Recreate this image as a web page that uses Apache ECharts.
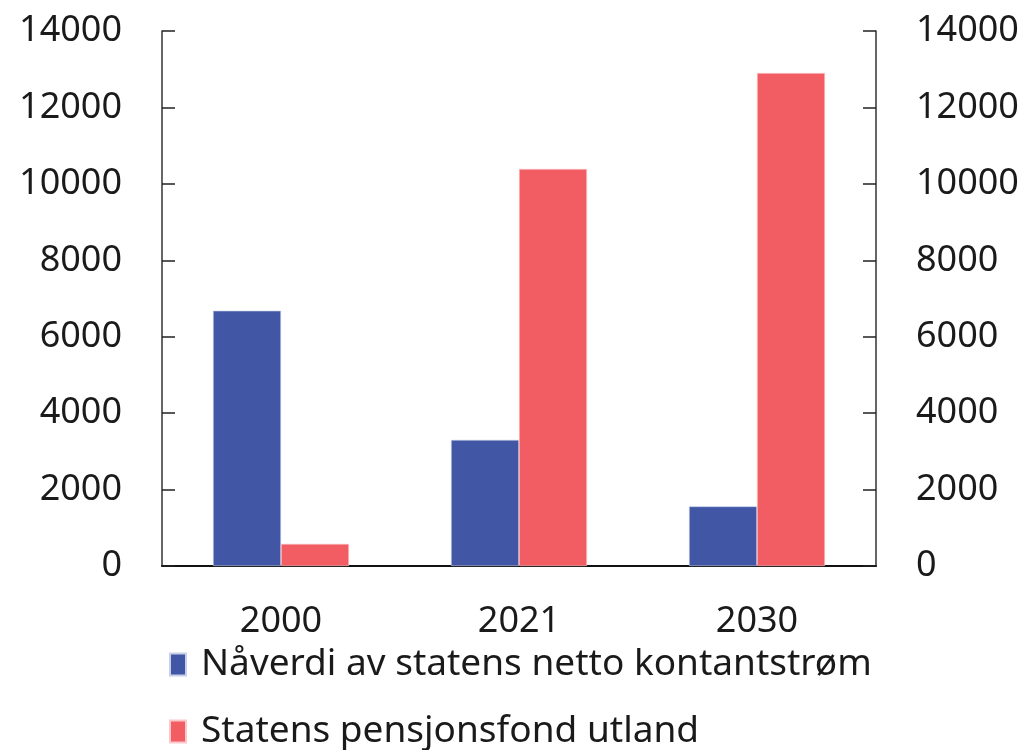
<!DOCTYPE html>
<html>
<head>
<meta charset="utf-8">
<script src="https://cdn.jsdelivr.net/npm/echarts@6/dist/echarts.min.js"></script>
<style>
  html, body { margin: 0; padding: 0; background: #fff; }
  #chart { width: 1028px; height: 750px; }
</style>
</head>
<body>
<div id="chart"></div>
<script>
// data
const years = ['2000', '2021', '2030'];
const naverdi = [6680, 3300, 1560];
const spu = [580, 10390, 12900];
const seriesNames = ['Nåverdi av statens netto kontantstrøm', 'Statens pensjonsfond utland'];

const chart = echarts.init(document.getElementById('chart'));

const textColor = '#1a1a1a';
const fontFamily = '"Noto Sans", "Open Sans", sans-serif';

// shared y axis look, left and right
function valueAxis(pos) {
  return {
    type: 'value',
    position: pos,
    min: 0,
    max: 14000,
    interval: 2000,
    axisLine: { show: true, lineStyle: { color: '#333', width: 1.5 } },
    axisTick: { show: true, inside: true, length: 13, lineStyle: { color: '#222', width: 1.5 } },
    splitLine: { show: false },
    axisLabel: {
      color: textColor, fontSize: 36, fontFamily: fontFamily, margin: 40,
      formatter: v => String(v) // no thousands separator
    }
  };
}

// one legend per row so the second one can run off the bottom like the original
function legendRow(name, top) {
  return {
    left: 164,
    top: top,
    itemWidth: 16,
    itemHeight: 22,
    icon: 'rect',
    textStyle: { color: textColor, fontSize: 37, fontFamily: fontFamily, padding: [0, 0, 0, 10] },
    data: [name]
  };
}

chart.setOption({
  animation: false,
  grid: {
    left: 162,
    right: 152,
    top: 31,
    bottom: 184
  },
  legend: [legendRow(seriesNames[0], 641), legendRow(seriesNames[1], 708)],
  xAxis: {
    type: 'category',
    data: years,
    axisLine: { lineStyle: { color: '#111', width: 2 } },
    axisTick: { show: false },
    axisLabel: { color: textColor, fontSize: 36, fontFamily: fontFamily, margin: 38 }
  },
  yAxis: [valueAxis('left'), valueAxis('right')],
  series: [
    {
      name: seriesNames[0],
      type: 'bar',
      data: naverdi,
      barWidth: 68,
      barGap: '0%',
      itemStyle: { color: '#4157a6', borderColor: '#c8cfe6', borderWidth: 0.6 }
    },
    {
      name: seriesNames[1],
      type: 'bar',
      data: spu,
      barWidth: 68,
      barGap: '0%',
      itemStyle: { color: '#f25d64', borderColor: '#fbc8ca', borderWidth: 0.6 }
    }
  ]
});
</script>
</body>
</html>
